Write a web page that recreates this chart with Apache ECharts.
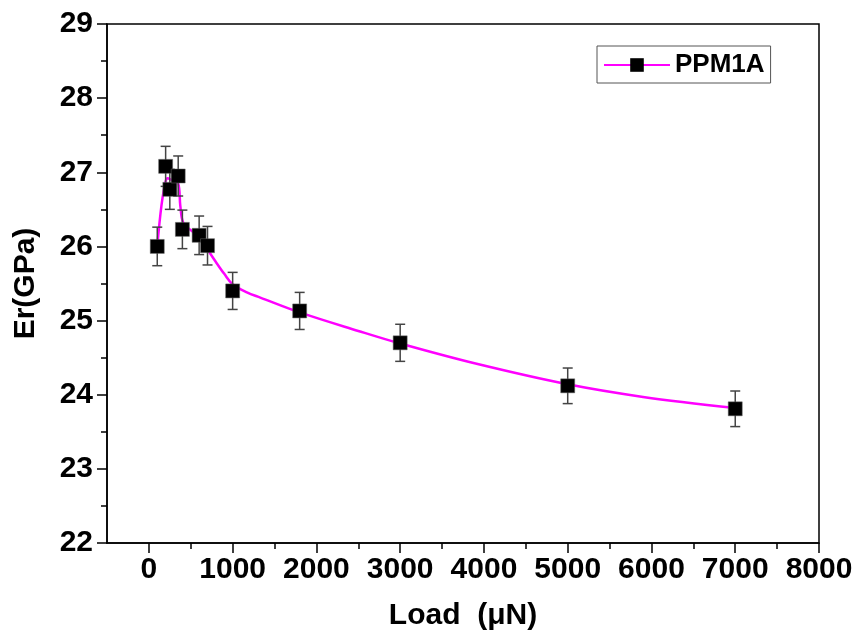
<!DOCTYPE html>
<html>
<head>
<meta charset="utf-8">
<title>PPM1A Er vs Load</title>
<script src="https://cdn.jsdelivr.net/npm/echarts@6/dist/echarts.min.js"></script>
<style>
  html, body { margin: 0; padding: 0; background: #fff; }
  #chart { width: 856px; height: 642px; }
</style>
</head>
<body>
<div id="chart"></div>
<script>
// Measured reduced modulus at each indentation load
const loads   = [100, 200, 250, 350, 400, 600, 700, 1000, 1800, 3000, 5000, 7000];
const erVals  = [26.00, 27.08, 26.77, 26.95, 26.23, 26.15, 26.01, 25.40, 25.13, 24.70, 24.12, 23.81];
const erErr   = [0.26, 0.27, 0.27, 0.27, 0.26, 0.26, 0.26, 0.25, 0.25, 0.25, 0.24, 0.24];

// Smoothed trend curve through the measurements
const curveX  = [100, 150, 200, 225, 260, 350, 375, 410, 500, 600, 700, 800, 900, 1000, 1170, 1330, 1800, 2500, 3000, 3900, 5000, 5900, 7000];
const curveY  = [26.00, 26.55, 26.88, 26.92, 26.90, 26.85, 26.55, 26.32, 26.22, 26.13, 25.96, 25.79, 25.63, 25.49, 25.38, 25.31, 25.11, 24.86, 24.69, 24.42, 24.14, 23.97, 23.82];

// Axis tick values
const xMajorTicks = [0, 1000, 2000, 3000, 4000, 5000, 6000, 7000, 8000];
const xMinorTicks = [500, 1500, 2500, 3500, 4500, 5500, 6500, 7500];

const seriesName = 'PPM1A';
const FONT = '"Liberation Sans", Arial, sans-serif';

const chart = echarts.init(document.getElementById('chart'), null, { renderer: 'canvas' });

const pointData = loads.map((x, i) => [x, erVals[i]]);
const errData = loads.map((x, i) => [x, erVals[i] - erErr[i], erVals[i] + erErr[i]]);
const curveData = curveX.map((x, i) => [x, curveY[i]]);

const labelStyle = { fontFamily: FONT, fontSize: 30, fontWeight: 'bold', color: '#000' };
const tickLine = { color: '#000', width: 1.5 };

const option = {
  animation: false,
  backgroundColor: '#fff',
  grid: {
    left: 107, top: 24, right: 37, bottom: 99,
    show: true, borderColor: '#000', borderWidth: 1.5, backgroundColor: 'transparent'
  },
  legend: {
    data: [seriesName],
    left: 597, top: 46,
    padding: [6, 6, 5, 6],
    borderColor: '#555', borderWidth: 1,
    itemWidth: 66, itemHeight: 17,
    textStyle: { fontFamily: FONT, fontSize: 26, fontWeight: 'bold', color: '#000' }
  },
  xAxis: [{
    type: 'value', min: -500, max: 8000,
    name: 'Load  (μN)', nameLocation: 'middle', nameGap: 58,
    nameTextStyle: labelStyle,
    axisLine: { onZero: false, lineStyle: tickLine },
    axisTick: { customValues: xMajorTicks, length: 10, lineStyle: tickLine },
    axisLabel: Object.assign({ customValues: xMajorTicks, margin: 12, formatter: v => String(v) }, labelStyle),
    splitLine: { show: false }
  }, {
    type: 'value', min: -500, max: 8000, position: 'bottom',
    axisLine: { show: false, onZero: false },
    axisTick: { customValues: xMinorTicks, length: 6, lineStyle: tickLine },
    axisLabel: { show: false },
    splitLine: { show: false }
  }],
  yAxis: {
    type: 'value', min: 22, max: 29, interval: 1,
    name: 'Er(GPa)', nameLocation: 'middle', nameGap: 66,
    nameTextStyle: labelStyle,
    axisLine: { show: true, onZero: false, lineStyle: tickLine },
    axisTick: { show: true, length: 10, lineStyle: tickLine },
    minorTick: { show: true, splitNumber: 2, length: 6, lineStyle: tickLine },
    axisLabel: Object.assign({ margin: 14 }, labelStyle),
    splitLine: { show: false }
  },
  series: [
    {
      name: seriesName,
      type: 'line',
      data: curveData,
      smooth: 0.35,
      showSymbol: false,
      symbol: 'rect',
      itemStyle: { color: '#000' },
      lineStyle: { color: '#ff00ff', width: 2.5 },
      z: 2
    },
    {
      name: 'errorBars',
      type: 'custom',
      data: errData,
      renderItem: function (params, api) {
        const x = api.value(0);
        const lo = api.coord([x, api.value(1)]);
        const hi = api.coord([x, api.value(2)]);
        const cap = 5;
        const style = { stroke: '#444', lineWidth: 1.5, fill: null };
        return {
          type: 'group',
          children: [
            { type: 'line', shape: { x1: lo[0], y1: lo[1], x2: hi[0], y2: hi[1] }, style: style },
            { type: 'line', shape: { x1: hi[0] - cap, y1: hi[1], x2: hi[0] + cap, y2: hi[1] }, style: style },
            { type: 'line', shape: { x1: lo[0] - cap, y1: lo[1], x2: lo[0] + cap, y2: lo[1] }, style: style }
          ]
        };
      },
      encode: { x: 0, y: [1, 2] },
      z: 3
    },
    {
      name: 'points',
      type: 'scatter',
      data: pointData,
      symbol: 'rect',
      symbolSize: 14,
      itemStyle: { color: '#000', opacity: 1, borderColor: '#666', borderWidth: 0.5 },
      z: 4
    }
  ]
};

chart.setOption(option);
</script>
</body>
</html>
